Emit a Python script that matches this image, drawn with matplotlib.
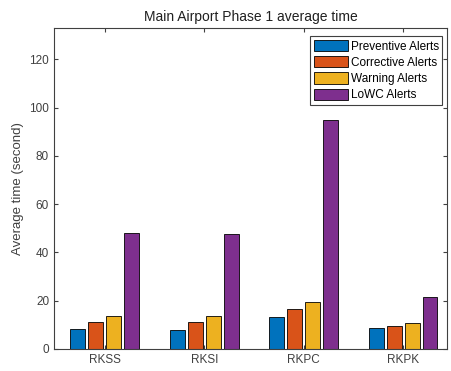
import numpy as np
import matplotlib
matplotlib.use('Agg')
import matplotlib.pyplot as plt

airports = ['RKSS', 'RKSI', 'RKPC', 'RKPK']
series_names = ['Preventive Alerts', 'Corrective Alerts', 'Warning Alerts', 'LoWC Alerts']
preventive = [8.3, 8.0, 13.3, 8.6]
corrective = [11.0, 11.0, 16.6, 9.4]
warning = [13.8, 13.8, 19.4, 10.6]
lowc = [48.1, 47.6, 95.0, 21.4]
yticks = [0, 20, 40, 60, 80, 100, 120]

colors = ['#0072BD', '#D95319', '#EDB120', '#7E2F8E']

plt.rcParams['font.family'] = ['Liberation Sans', 'DejaVu Sans']

fig = plt.figure(figsize=(4.51, 3.71), dpi=100)
ax = fig.add_axes([0.1197, 0.0593, 0.8713, 0.8652])

x = np.arange(1, len(airports) + 1)
offsets = [-0.27, -0.09, 0.09, 0.27]
for vals, off, c, name in zip([preventive, corrective, warning, lowc], offsets, colors, series_names):
    ax.bar(x + off, vals, width=0.15, color=c, edgecolor='black', linewidth=0.6, label=name)

ax.set_xlim(0.49, 4.44)
ax.set_ylim(0, 133)
ax.set_xticks(x)
ax.set_xticklabels(airports, fontsize=9)
ax.set_yticks(yticks)
ax.tick_params(direction='in', top=True, right=True, labelsize=8.5, colors='#404040', length=3)
for s in ax.spines.values():
    s.set_color('#404040')
    s.set_linewidth(0.8)
ax.set_ylabel('Average time (second)', fontsize=9.5, color='#404040')
ax.set_title('Main Airport Phase 1 average time', fontsize=10, color='#202020', pad=5)
leg = ax.legend(loc='upper right', fontsize=8.5, fancybox=False, framealpha=1,
                edgecolor='#404040', handlelength=2.9, handleheight=1.1,
                labelspacing=0.3, borderpad=0.3, handletextpad=0.2,
                borderaxespad=0.3, bbox_to_anchor=(0.997, 0.985))
leg.get_frame().set_linewidth(0.8)

fig.savefig('out.png', dpi=100)
